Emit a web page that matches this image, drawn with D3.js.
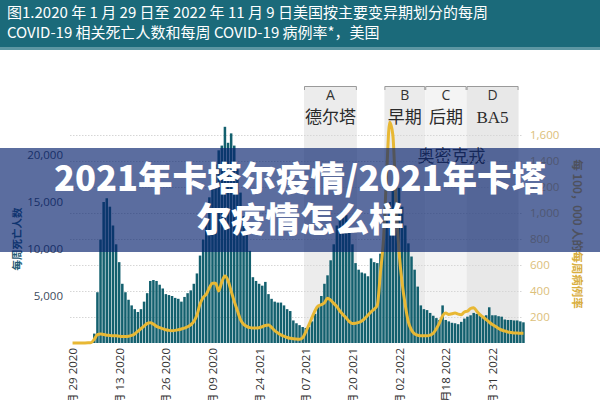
<!DOCTYPE html>
<html><head><meta charset="utf-8">
<script src="https://cdn.jsdelivr.net/npm/d3@7"></script>
<style>body{margin:0;background:#fff}svg{display:block}</style>
</head><body><svg id="c" width="600" height="400"></svg>
<script>
const titleLines = ["图1.2020 年 1 月 29 日至 2022 年 11 月 9 日美国按主要变异期划分的每周",
                    "COVID-19 相关死亡人数和每周 COVID-19 病例率*，美国"];
const firstWeek = "2020-01-29";
const weeklyDeaths = [
 0,0,0,0,0,0,0,1000,5400,11000,
 15000,15400,14500,12500,10500,8600,6300,5400,4600,4000,
 3600,3300,3600,4400,5300,6600,6700,6600,6200,5800,
 5200,5100,5000,4800,4700,4400,4900,5300,5600,6300,
 7400,9300,11000,13000,15500,17500,19000,20500,21000,23000,
 21300,22300,21000,18500,16000,13500,11500,9800,7000,6600,
 6300,6100,6500,5200,4700,4400,4300,4300,4000,3600,
 3400,2400,2100,1900,1700,1600,1700,2300,3100,4000,
 5000,6300,7200,8800,10500,12500,13500,14000,13600,12000,
 10500,8500,7800,7500,7400,7100,9000,8600,8500,9500,
 11000,13000,15000,16500,17500,16500,14500,12500,10600,9200,
 7800,6000,4000,3600,3500,3200,2900,2650,2450,4000,
 2450,2300,2150,2100,2000,2250,2600,2800,2950,3200,
 3100,2950,2800,2950,3800,2950,2950,2850,2800,2500,
 2450,2450,2400,2400,2300,2200];
const weeklyCaseRate = [
 0,0,0,0,0,1,3,30,65,70,
 65,60,58,55,55,52,50,50,52,58,
 70,90,110,130,150,155,145,128,118,110,
 102,97,95,97,102,108,115,125,140,165,
 215,300,350,375,425,460,460,400,470,515,
 480,400,320,250,180,145,128,118,115,115,
 118,125,135,138,120,95,78,62,52,42,
 36,32,30,28,40,85,140,195,250,285,
 295,310,345,330,305,280,245,218,192,165,
 150,152,158,170,190,215,240,260,290,540,
 800,1300,1700,1600,1100,700,460,290,160,100,
 70,60,55,55,55,60,75,110,155,210,
 230,220,225,230,222,218,238,245,265,272,
 245,218,200,180,160,142,128,112,100,92,
 85,80,77,76,75,75];
const tickDates = ["2020-01-29","2020-05-13","2020-08-26","2020-12-09","2021-03-24",
                   "2021-07-07","2021-10-20","2022-02-02","2022-05-18","2022-08-31"];
const tickLabels = ["1月 29 2020","5月 13 2020","8月 26 2020","12月 09 2020","3月 24 2021",
                    "7月 07 2021","10月 20 2021","2月 02 2022","5月18 2022","8月 31 2022"];
const leftTicks = [5000,10000,15000,20000];
const rightTicks = [200,400,600,800,1000,1200,1400,1600];
const leftTitle = "每周死亡人数";
const rightTitle = "每 100，000 人的每周病例率";
const variantCodes = ["A","B","C","D"];
const variantNames = ["德尔塔","早期","后期","BA5"];
const variantStart = ["2021-07-03","2021-12-31","2022-04-02","2022-07-04"];
const variantEnd   = ["2021-10-30","2022-04-02","2022-07-04","2022-10-29"];
const variantShade = ["#ececec","#ebebeb","#f4f4f4","#e8e8e8"];
const omicronLabel = "奥密克戎";
const bannerLines = ["2021年卡塔尔疫情/2021年卡塔","尔疫情怎么样"];

const svg = d3.select("#c");
const parse = d3.utcParse("%Y-%m-%d");
const t0 = parse(firstWeek);
const weeks = weeklyDeaths.map((d,i)=>d3.utcDay.offset(t0, 7*i));
const last = weeks[weeks.length-1];
const x = d3.scaleUtc().domain([d3.utcHour.offset(t0,-84), d3.utcHour.offset(last,84)]).range([71,525]);
const yL = d3.scaleLinear().domain([0,20000]).range([343,155]);
const yR = d3.scaleLinear().domain([0,1600]).range([343,135]);
const step = x(weeks[1]) - x(weeks[0]);
const sans = "'Open Sans','Noto Sans CJK SC',sans-serif";
const serif = "'Liberation Serif','DejaVu Serif','Noto Sans CJK SC',serif";

// title band
svg.append("rect").attr("x",0).attr("y",0).attr("width",600).attr("height",48).attr("fill","#1b6a7a");
svg.append("rect").attr("x",0).attr("y",47).attr("width",600).attr("height",3).attr("fill","#5d97a3");
svg.selectAll("text.title").data(titleLines).join("text").attr("class","title")
  .attr("x",7).attr("y",(d,i)=>18+i*20).attr("fill","#fff")
  .attr("font-family","'Noto Sans CJK SC',sans-serif").attr("font-size",15).text(d=>d);

// variant shading
const vb = variantCodes.map((c,i)=>({code:c,name:variantNames[i],s:parse(variantStart[i]),e:parse(variantEnd[i]),fill:variantShade[i]}));
svg.selectAll("rect.band").data(vb).join("rect").attr("class","band")
  .attr("x",d=>x(d.s)).attr("width",d=>x(d.e)-x(d.s)).attr("y",86).attr("height",343-86).attr("fill",d=>d.fill);
svg.selectAll("path.brk").data(vb).join("path").attr("class","brk")
  .attr("d",d=>`M${x(d.s)+0.5},90V86.5H${x(d.e)-0.5}V90`).attr("fill","none").attr("stroke","#9a9a9a").attr("stroke-width",1);
svg.selectAll("text.vcode").data(vb).join("text").attr("class","vcode")
  .attr("x",d=>(x(d.s)+x(d.e))/2).attr("y",100).attr("text-anchor","middle")
  .attr("font-family",sans).attr("font-size",14).attr("fill","#333").text(d=>d.code);
svg.selectAll("text.vname").data(vb).join("text").attr("class","vname")
  .attr("x",d=>(x(d.s)+x(d.e))/2).attr("y",123).attr("text-anchor","middle")
  .attr("font-family",serif).attr("font-size",17).attr("fill","#2a2a2a").text(d=>d.name);
svg.append("text").attr("x",(x(vb[1].s)+x(vb[3].e))/2).attr("y",162).attr("text-anchor","middle")
  .attr("font-family",serif).attr("font-size",17).attr("fill","#333").text(omicronLabel);

// gridlines
svg.selectAll("line.grid").data(rightTicks).join("line").attr("class","grid")
  .attr("x1",70).attr("x2",522).attr("y1",d=>yR(d)+0.5).attr("y2",d=>yR(d)+0.5)
  .attr("stroke","#d6d6d6").attr("stroke-dasharray","1.5,1.5");

// bars
svg.selectAll("rect.bar").data(weeklyDeaths).join("rect").attr("class","bar")
  .attr("x",(d,i)=>x(weeks[i])-step/2+0.3).attr("width",step-0.6)
  .attr("y",d=>yL(d)).attr("height",d=>343-yL(d)).attr("fill","#13606e");

// case rate line
svg.append("path").datum(weeklyCaseRate)
  .attr("d",d3.line().x((d,i)=>x(weeks[i])).y(d=>yR(d)).curve(d3.curveMonotoneX))
  .attr("fill","none").attr("stroke","#e8b834").attr("stroke-width",3).attr("stroke-linejoin","round");

// axes
const gl = svg.append("g").attr("transform","translate(66,0)")
  .call(d3.axisLeft(yL).tickValues(leftTicks).tickFormat(d3.format(",")).tickSize(0).tickPadding(3));
gl.select(".domain").remove();
gl.selectAll("text").attr("font-family",sans).attr("font-size",11.5).attr("fill","#3d4b5c");
const gr = svg.append("g").attr("transform","translate(527,0)")
  .call(d3.axisRight(yR).tickValues(rightTicks).tickFormat(d3.format(",")).tickSize(0).tickPadding(3));
gr.select(".domain").remove();
gr.selectAll("text").attr("font-family",sans).attr("font-size",11.5).attr("fill","#dcc07a");
const gb = svg.append("g").attr("transform","translate(0,343)")
  .call(d3.axisBottom(x).tickValues(tickDates.map(parse)).tickFormat((d,i)=>tickLabels[i]).tickSize(0));
gb.select(".domain").remove();
gb.selectAll("text").attr("transform","rotate(-90)").attr("text-anchor","end")
  .attr("x",-5).attr("y",0).attr("dy","0.35em")
  .attr("font-family",sans).attr("font-size",11.5).attr("fill","#333");

svg.append("text").attr("transform","translate(21,239) rotate(-90)").attr("text-anchor","middle")
  .attr("font-family","'Noto Sans CJK SC',sans-serif").attr("font-size",10.5).attr("font-weight",700)
  .attr("fill","#1f5a74").text(leftTitle);
svg.append("text").attr("transform","translate(573,234) rotate(90)").attr("text-anchor","middle")
  .attr("font-family","'Noto Sans CJK SC',sans-serif").attr("font-size",11.5).attr("font-weight",700)
  .attr("fill","#d9ae3e").text(rightTitle);

// overlay banner
svg.append("rect").attr("x",0).attr("y",148).attr("width",600).attr("height",104).attr("fill","rgba(6,34,110,0.66)");
svg.selectAll("text.banner").data(bannerLines).join("text").attr("class","banner")
  .attr("x",300).attr("y",(d,i)=>191+i*41).attr("text-anchor","middle")
  .attr("font-family","'Noto Sans CJK SC',sans-serif").attr("font-weight",900).attr("font-size",34.5)
  .attr("fill","#fff").text(d=>d);
</script></body></html>
